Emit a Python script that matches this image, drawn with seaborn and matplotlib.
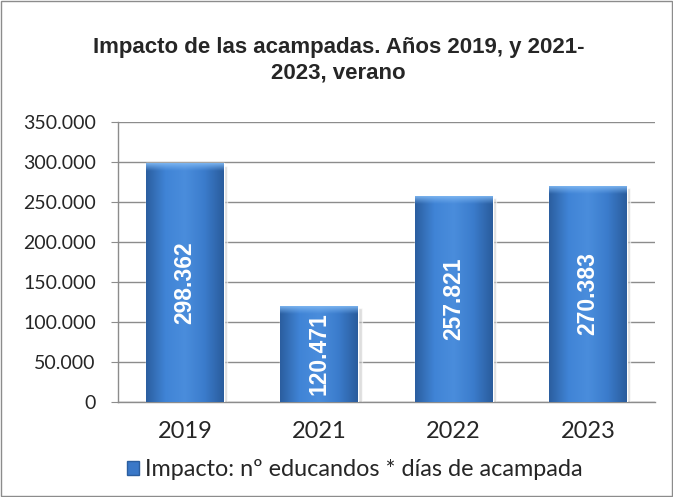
import numpy as np
import pandas as pd
import seaborn as sns
from matplotlib import pyplot as plt
from matplotlib.colors import LinearSegmentedColormap
from matplotlib.patches import Patch
from matplotlib.ticker import FuncFormatter

# %% data
years = ['2019', '2021', '2022', '2023']
impacto = [298362, 120471, 257821, 270383]
yticks = [0, 50000, 100000, 150000, 200000, 250000, 300000, 350000]

dfData = pd.DataFrame({'Year': years, 'Impacto': impacto})

sns.set_style('white')
plt.rcParams['font.family'] = ['Lato', 'DejaVu Sans']
BoldFont = ['Liberation Sans', 'DejaVu Sans']


def fmt_miles(v, pos=None):
    return f'{int(round(v)):,}'.replace(',', '.')


fig = plt.figure(figsize=(6.73, 4.97), dpi=100)
ax = fig.add_axes([118 / 673, 1 - 402 / 497, (655 - 118) / 673, (402 - 122) / 497])

sns.barplot(data=dfData, x='Year', y='Impacto', color='#3a78c8',
            width=0.58, ax=ax, zorder=3)

ax.set_ylim(0, 350000)
ax.set_yticks(yticks)
ax.yaxis.set_major_formatter(FuncFormatter(fmt_miles))
ax.grid(axis='y', color='#8c8c8c', linewidth=1.0, zorder=0)
ax.set_xlabel('')
ax.set_ylabel('')
for side in ['top', 'right']:
    ax.spines[side].set_visible(False)
for side in ['left', 'bottom']:
    ax.spines[side].set_color('#8c8c8c')
    ax.spines[side].set_linewidth(1.0)
ax.tick_params(axis='y', labelsize=14, pad=11, left=True, length=5, color='#8c8c8c')
ax.tick_params(axis='x', labelsize=17, pad=10, bottom=False)

# bevel-ish gradient on bars
cmap = LinearSegmentedColormap.from_list('bev', ['#2b5e9f', '#4084d6', '#4a8ddc', '#3b7ccc', '#2a5c9c'])
grad = np.linspace(0, 1, 256).reshape(1, -1)
vgrad = np.linspace(0, 1, 64).reshape(-1, 1)
for p, v in zip(ax.patches, impacto):
    x0, w, h = p.get_x(), p.get_width(), p.get_height()
    # soft shadow
    ax.bar(x0 + w / 2 + 0.025, h, width=w, bottom=-3000, color='#c8c8c8',
           alpha=0.6, zorder=2)
    im = ax.imshow(grad, cmap=cmap, aspect='auto', extent=(x0, x0 + w, 0, h),
                   zorder=3.5)
    im.set_clip_path(p)
    # lighter top edge
    top = ax.imshow(vgrad, cmap=LinearSegmentedColormap.from_list(
        't', [(0.45, 0.68, 0.93, 0.0), (0.5, 0.72, 0.95, 0.95)]),
        aspect='auto', extent=(x0, x0 + w, h - 10000, h), origin='lower', zorder=3.6)
    top.set_clip_path(p)
    ax.text(x0 + w / 2, h / 2, fmt_miles(v), rotation=90, ha='center', va='center',
            color='white', fontsize=16.5, fontweight='bold', family=BoldFont, zorder=5)
ax.set_xlim(-0.5, 3.5)

fig.suptitle('Impacto de las acampadas. Años 2019, y 2021-\n2023, verano',
             x=0.503, y=1 - 37 / 497, va='top', fontsize=16, fontweight='bold',
             family=BoldFont, linespacing=1.3)

handle = Patch(facecolor='#3a78c8', edgecolor='#2b5e9f')
fig.legend([handle], ['Impacto: nº educandos * días de acampada'],
           loc='center', bbox_to_anchor=(0.527, 1 - 470 / 497), frameon=False,
           fontsize=16.8, handlelength=0.55, handleheight=0.55, handletextpad=0.25)

# outer border
fig.patches.append(plt.Rectangle((0.002, 0.002), 0.996, 0.996, transform=fig.transFigure,
                                 fill=False, edgecolor='#8c8c8c', linewidth=1.0))

fig.savefig('out.png', dpi=100)
